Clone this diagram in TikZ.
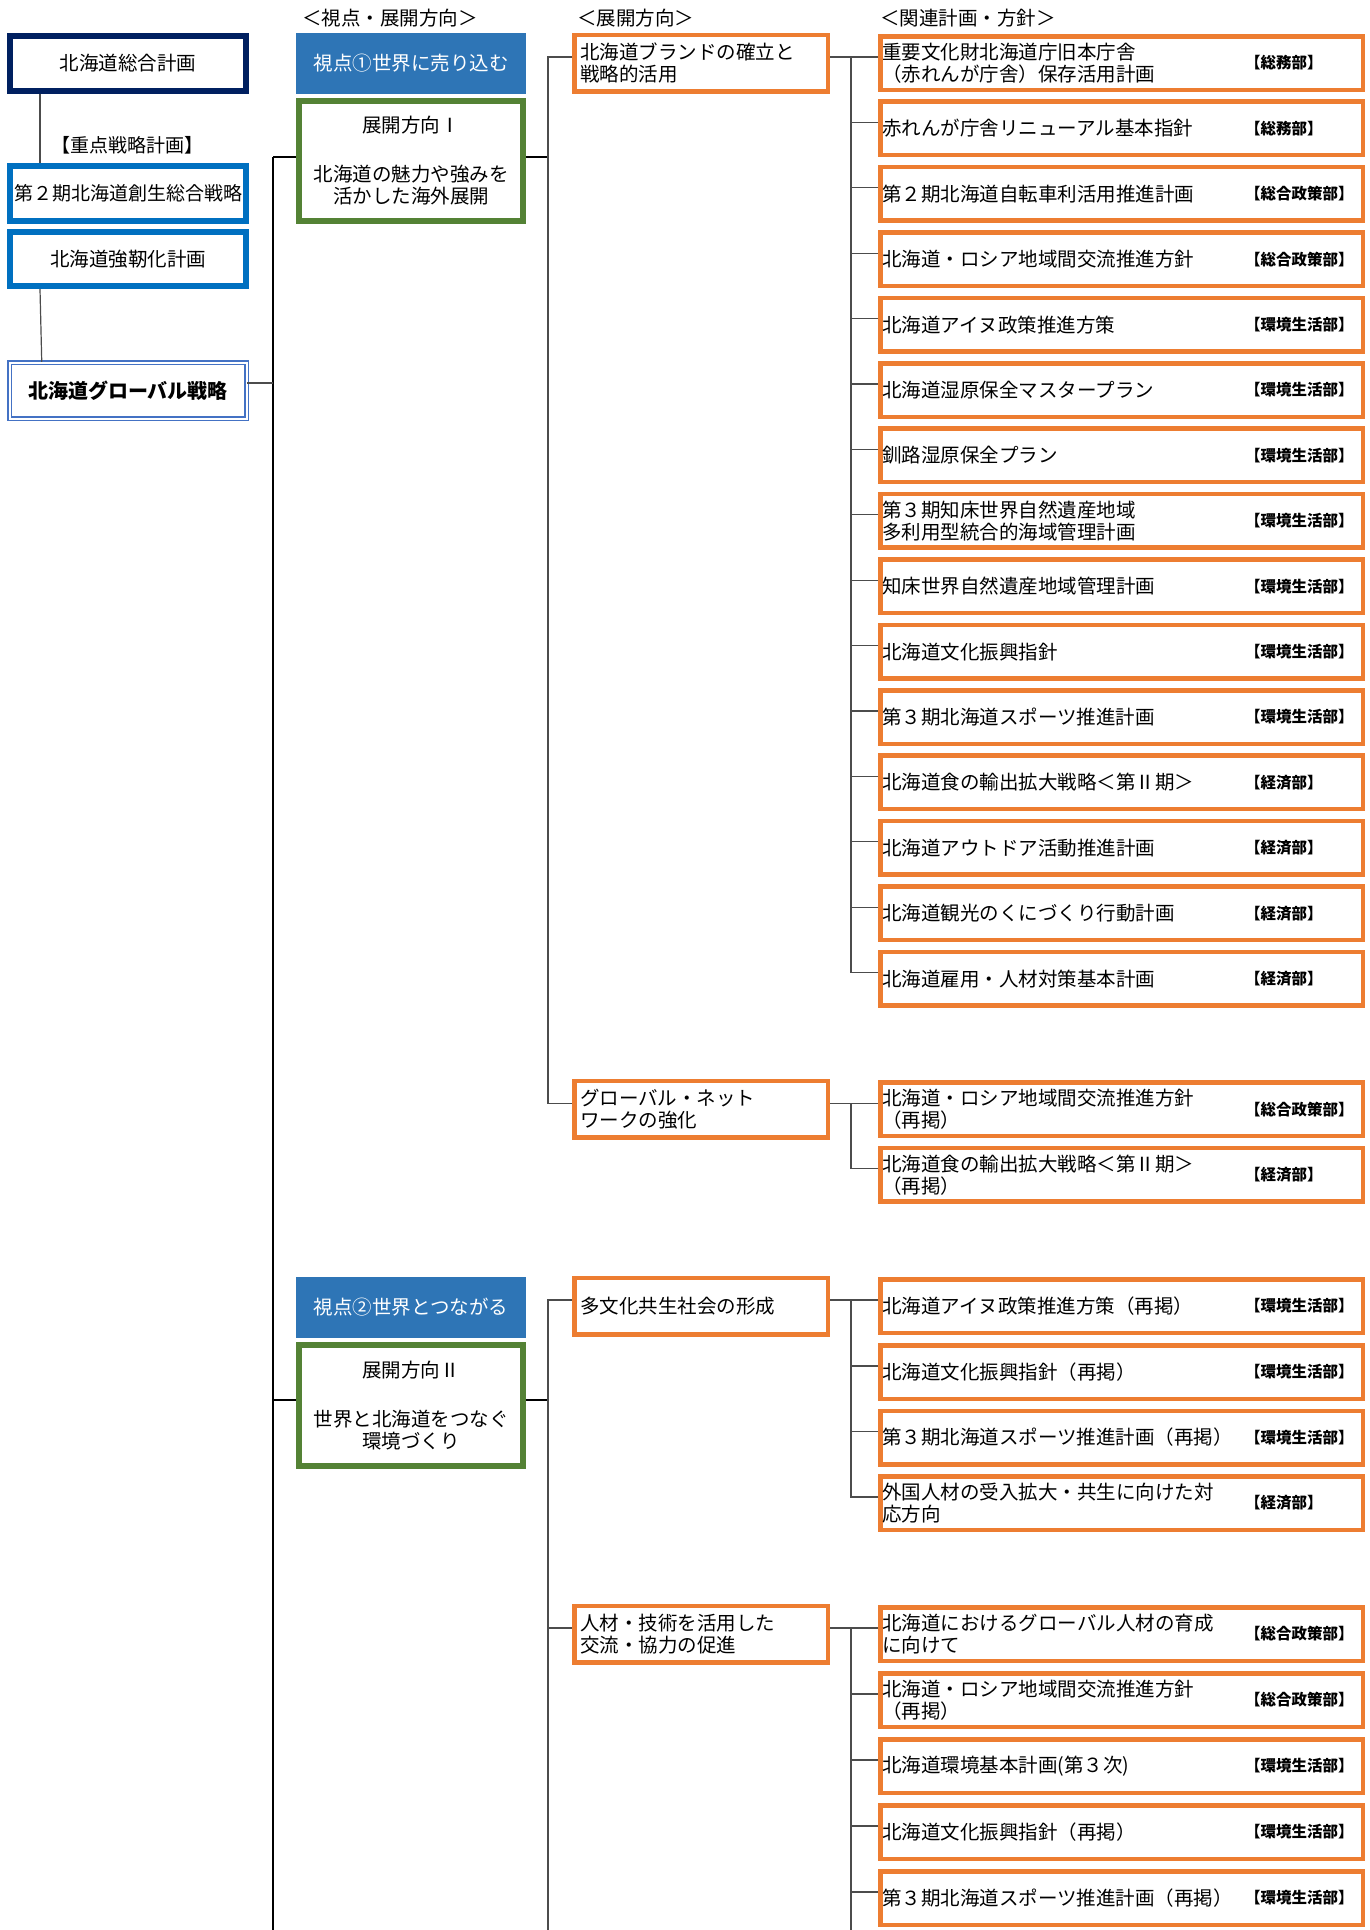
\documentclass[tikz,border=0pt]{standalone}
\usepackage{fontspec}
\setmainfont{Noto Sans CJK JP}
\definecolor{navy}{HTML}{002060}
\definecolor{planblue}{HTML}{0070C0}
\definecolor{globblue}{HTML}{4472C4}
\definecolor{viewblue}{HTML}{2E75B6}
\definecolor{axisgreen}{HTML}{548235}
\definecolor{planorange}{HTML}{ED7D31}
\tikzset{
  every node/.style={inner sep=0pt},
  txt/.style={font=\fontsize{19.5}{22}\selectfont},
  lbox/.style={txt, draw, line width=6pt, minimum width=236pt, minimum height=55pt},
  viewbox/.style={txt, fill=viewblue, text=white, minimum width=230pt, minimum height=61pt},
  axisbox/.style={txt, draw=axisgreen, line width=6pt, minimum width=224pt, minimum height=120pt, align=center},
  dirbox/.style={txt, draw=planorange, line width=4.5pt, minimum height=56.5pt, text width=242pt, inner xsep=5.75pt, align=left},
  planbox/.style={txt, draw=planorange, line width=4.5pt, minimum height=53.5pt, text width=478.5pt, inner xsep=2pt, align=left},
  dept/.style={anchor=west, font=\bfseries\fontsize{15.5}{17}\selectfont},
  head/.style={txt, anchor=west},
  conn/.style={draw=black!70, line width=1.2pt},
  trunk/.style={draw=black, line width=2pt}
}
\begin{document}
\begin{tikzpicture}[x=1pt,y=-1pt]
\useasboundingbox (0,0) rectangle (1370,1930);
% headers
\node[head] (head1) at (302,18) {＜視点・展開方向＞};
\node[head] (head2) at (577,18) {＜展開方向＞};
\node[head] (head3) at (880,18) {＜関連計画・方針＞};
% left column
\node[lbox, draw=navy] (sogo) at (128,63.5) {北海道総合計画};
\node[txt, font=\fontsize{19}{22}\selectfont] (juten) at (127,145) {【重点戦略計画】};
\node[lbox, draw=planblue, font=\fontsize{19}{22}\selectfont] (sosei) at (128,193.5) {第２期北海道創生総合戦略};
\node[lbox, draw=planblue, minimum height=54pt] (kyoujin) at (128,259) {北海道強靭化計画};
\node[txt, draw=globblue, double, double distance=2pt, line width=1.5pt, minimum width=237pt, minimum height=56pt, font=\bfseries\fontsize{20}{22}\selectfont] (glob) at (128,390.5) {北海道グローバル戦略};
\draw[conn] ([xshift=33pt]sogo.south west) -- ([xshift=33pt]sosei.north west);
\draw[conn] ([xshift=33pt]kyoujin.south west) -- ([xshift=33pt]glob.north west);
% trunk
\coordinate (tr0) at (273,157);
\coordinate (tr1) at (273,1400);
\coordinate (tr2) at (273,1930);
\coordinate (tr3) at (273,383);
\draw[trunk] (tr0) -- (tr2);
\draw[conn] ([yshift=7.5pt]glob.east) -- (tr3);
% viewpoints
\node[viewbox] (view1) at (411,63.5) {視点①世界に売り込む};
\node[axisbox] (axis1) at (411,161) {展開方向Ⅰ\\[27pt]北海道の魅力や強みを\\活かした海外展開};
\node[viewbox] (view2) at (411,1307) {視点②世界とつながる};
\node[axisbox, minimum height=121pt] (axis2) at (411,1405.5) {展開方向Ⅱ\\[27pt]世界と北海道をつなぐ\\環境づくり};
\draw[trunk] (tr0) -- ([yshift=4pt]axis1.west);
\draw[trunk] (tr1) -- ([yshift=5.5pt]axis2.west);
% directions
\node[dirbox] (dir0) at (701,63) {北海道ブランドの確立と\\戦略的活用};
\node[dirbox] (dir1) at (701,1109.4) {グローバル・ネット\\ワークの強化};
\node[dirbox] (dir2) at (701,1306) {多文化共生社会の形成};
\node[dirbox] (dir3) at (701,1634) {人材・技術を活用した\\交流・協力の促進};
\coordinate (kn1) at (548,157);
\coordinate (kn2) at (548,1400);
\coordinate (kn3) at (548,1930);
\draw[trunk] ([yshift=4pt]axis1.east) -- (kn1);
\draw[conn] (kn1) |- ([yshift=6pt]dir0.west);
\draw[conn] (kn1) |- ([yshift=6pt]dir1.west);
\draw[trunk] ([yshift=5.5pt]axis2.east) -- (kn2);
\draw[conn] (kn2) |- ([yshift=6pt]dir2.west);
\draw[conn] (kn2) |- ([yshift=6pt]dir3.west);
\draw[conn] (kn2) -- (kn3);
% related plans
\node[planbox] (plan0) at (1121.5,63) {重要文化財北海道庁旧本庁舎\\（赤れんが庁舎）保存活用計画};
\node[dept] (dept0) at (1245,63) {【総務部】};
\node[planbox] (plan1) at (1121.5,128.4) {赤れんが庁舎リニューアル基本指針};
\node[dept] (dept1) at (1245,128.4) {【総務部】};
\node[planbox] (plan2) at (1121.5,193.8) {第２期北海道自転車利活用推進計画};
\node[dept] (dept2) at (1245,193.8) {【総合政策部】};
\node[planbox] (plan3) at (1121.5,259.2) {北海道・ロシア地域間交流推進方針};
\node[dept] (dept3) at (1245,259.2) {【総合政策部】};
\node[planbox] (plan4) at (1121.5,324.6) {北海道アイヌ政策推進方策};
\node[dept] (dept4) at (1245,324.6) {【環境生活部】};
\node[planbox] (plan5) at (1121.5,390) {北海道湿原保全マスタープラン};
\node[dept] (dept5) at (1245,390) {【環境生活部】};
\node[planbox] (plan6) at (1121.5,455.4) {釧路湿原保全プラン};
\node[dept] (dept6) at (1245,455.4) {【環境生活部】};
\node[planbox] (plan7) at (1121.5,520.8) {第３期知床世界自然遺産地域\\多利用型統合的海域管理計画};
\node[dept] (dept7) at (1245,520.8) {【環境生活部】};
\node[planbox] (plan8) at (1121.5,586.2) {知床世界自然遺産地域管理計画};
\node[dept] (dept8) at (1245,586.2) {【環境生活部】};
\node[planbox] (plan9) at (1121.5,651.6) {北海道文化振興指針};
\node[dept] (dept9) at (1245,651.6) {【環境生活部】};
\node[planbox] (plan10) at (1121.5,717) {第３期北海道スポーツ推進計画};
\node[dept] (dept10) at (1245,717) {【環境生活部】};
\node[planbox] (plan11) at (1121.5,782.4) {北海道食の輸出拡大戦略＜第Ⅱ期＞};
\node[dept] (dept11) at (1245,782.4) {【経済部】};
\node[planbox] (plan12) at (1121.5,847.8) {北海道アウトドア活動推進計画};
\node[dept] (dept12) at (1245,847.8) {【経済部】};
\node[planbox] (plan13) at (1121.5,913.2) {北海道観光のくにづくり行動計画};
\node[dept] (dept13) at (1245,913.2) {【経済部】};
\node[planbox] (plan14) at (1121.5,978.6) {北海道雇用・人材対策基本計画};
\node[dept] (dept14) at (1245,978.6) {【経済部】};
\node[planbox] (plan15) at (1121.5,1109.4) {北海道・ロシア地域間交流推進方針\\（再掲）};
\node[dept] (dept15) at (1245,1109.4) {【総合政策部】};
\node[planbox] (plan16) at (1121.5,1174.8) {北海道食の輸出拡大戦略＜第Ⅱ期＞\\（再掲）};
\node[dept] (dept16) at (1245,1174.8) {【経済部】};
\node[planbox] (plan17) at (1121.5,1306) {北海道アイヌ政策推進方策（再掲）};
\node[dept] (dept17) at (1245,1306) {【環境生活部】};
\node[planbox] (plan18) at (1121.5,1372) {北海道文化振興指針（再掲）};
\node[dept] (dept18) at (1245,1372) {【環境生活部】};
\node[planbox] (plan19) at (1121.5,1437.5) {第３期北海道スポーツ推進計画（再掲）};
\node[dept] (dept19) at (1245,1437.5) {【環境生活部】};
\node[planbox] (plan20) at (1121.5,1503) {外国人材の受入拡大・共生に向けた対\\応方向};
\node[dept] (dept20) at (1245,1503) {【経済部】};
\node[planbox] (plan21) at (1121.5,1634) {北海道におけるグローバル人材の育成\\に向けて};
\node[dept] (dept21) at (1245,1634) {【総合政策部】};
\node[planbox] (plan22) at (1121.5,1700) {北海道・ロシア地域間交流推進方針\\（再掲）};
\node[dept] (dept22) at (1245,1700) {【総合政策部】};
\node[planbox] (plan23) at (1121.5,1766) {北海道環境基本計画(第３次)};
\node[dept] (dept23) at (1245,1766) {【環境生活部】};
\node[planbox] (plan24) at (1121.5,1832) {北海道文化振興指針（再掲）};
\node[dept] (dept24) at (1245,1832) {【環境生活部】};
\node[planbox] (plan25) at (1121.5,1898) {第３期北海道スポーツ推進計画（再掲）};
\node[dept] (dept25) at (1245,1898) {【環境生活部】};
% connectors to related plans
\coordinate (jn0) at (851,57);
\coordinate (jn1) at (851,1103.4);
\coordinate (jn2) at (851,1300);
\coordinate (jn3) at (851,1628);
\coordinate (jn4) at (851,1930);
\draw[conn] ([yshift=6pt]dir0.east) -- ([yshift=6pt]plan0.west);
\draw[conn] (jn0) |- ([yshift=6pt]plan1.west);
\draw[conn] (jn0) |- ([yshift=6pt]plan2.west);
\draw[conn] (jn0) |- ([yshift=6pt]plan3.west);
\draw[conn] (jn0) |- ([yshift=6pt]plan4.west);
\draw[conn] (jn0) |- ([yshift=6pt]plan5.west);
\draw[conn] (jn0) |- ([yshift=6pt]plan6.west);
\draw[conn] (jn0) |- ([yshift=6pt]plan7.west);
\draw[conn] (jn0) |- ([yshift=6pt]plan8.west);
\draw[conn] (jn0) |- ([yshift=6pt]plan9.west);
\draw[conn] (jn0) |- ([yshift=6pt]plan10.west);
\draw[conn] (jn0) |- ([yshift=6pt]plan11.west);
\draw[conn] (jn0) |- ([yshift=6pt]plan12.west);
\draw[conn] (jn0) |- ([yshift=6pt]plan13.west);
\draw[conn] (jn0) |- ([yshift=6pt]plan14.west);
\draw[conn] ([yshift=6pt]dir1.east) -- ([yshift=6pt]plan15.west);
\draw[conn] (jn1) |- ([yshift=6pt]plan16.west);
\draw[conn] ([yshift=6pt]dir2.east) -- ([yshift=6pt]plan17.west);
\draw[conn] (jn2) |- ([yshift=6pt]plan18.west);
\draw[conn] (jn2) |- ([yshift=6pt]plan19.west);
\draw[conn] (jn2) |- ([yshift=6pt]plan20.west);
\draw[conn] ([yshift=6pt]dir3.east) -- ([yshift=6pt]plan21.west);
\draw[conn] (jn3) |- ([yshift=6pt]plan22.west);
\draw[conn] (jn3) |- ([yshift=6pt]plan23.west);
\draw[conn] (jn3) |- ([yshift=6pt]plan24.west);
\draw[conn] (jn3) |- ([yshift=6pt]plan25.west);
\draw[conn] (jn3) -- (jn4);
\end{tikzpicture}
\end{document}
